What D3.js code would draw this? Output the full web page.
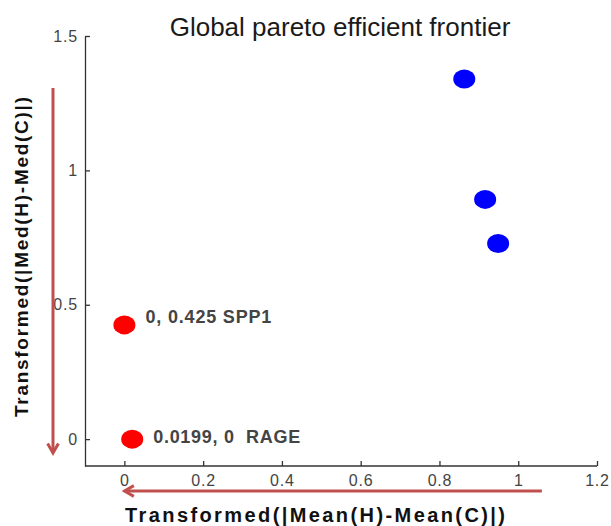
<!DOCTYPE html>
<html>
<head>
<meta charset="utf-8">
<script src="https://cdn.jsdelivr.net/npm/d3@7"></script>
<style>
  body { margin: 0; background: #fff; }
  svg { font-family: "Liberation Sans", Arial, sans-serif; }
</style>
</head>
<body>
<div id="chart"></div>
<script>
// values
const blueX = [0.863, 0.916, 0.949];
const blueY = [1.34, 0.892, 0.728];
const redX = [0, 0.0199];
const redY = [0.425, 0];
const redLabels = ["0, 0.425 SPP1", "0.0199, 0  RAGE"];
const xTicks = [0, 0.2, 0.4, 0.6, 0.8, 1, 1.2];
const yTicks = [0, 0.5, 1, 1.5];

const settings = {
    width: 611,
    height: 526,
    left: 85,
    right: 597,
    top: 36,
    bottom: 466,
    arrowColor: "#c0504d",
};

const x = d3.scaleLinear().domain([-0.1, 1.2]).range([settings.left, settings.right]);
const y = d3.scaleLinear().domain([-0.1, 1.5]).range([settings.bottom, settings.top]);

const svg = d3.select("#chart").append("svg")
    .attr("width", settings.width)
    .attr("height", settings.height);

// title
svg.append("text")
    .attr("x", 340).attr("y", 36)
    .attr("text-anchor", "middle")
    .attr("font-size", 26)
    .attr("fill", "#1a1a1a")
    .text("Global pareto efficient frontier");

// axes, ticks pointing inward
const xAxis = svg.append("g")
    .attr("transform", `translate(0,${settings.bottom})`)
    .call(d3.axisBottom(x).tickValues(xTicks).tickSizeInner(-5).tickSizeOuter(0).tickPadding(9)
        .tickFormat(d3.format("~g")));

const yAxis = svg.append("g")
    .attr("transform", `translate(${settings.left},0)`)
    .call(d3.axisLeft(y).tickValues(yTicks).tickSizeInner(-5).tickSizeOuter(0).tickPadding(7)
        .tickFormat(d3.format("~g")));

[xAxis, yAxis].forEach(g => {
    g.attr("font-size", 16).attr("font-family", "Liberation Sans, Arial, sans-serif");
    g.select(".domain").attr("stroke", "#333").attr("stroke-width", 1.3);
    g.selectAll(".tick line").attr("stroke", "#333").attr("stroke-width", 1.3);
    g.selectAll(".tick text")
        .attr("fill", "#444")
        .style("font-size", "16px")
        .style("letter-spacing", "0.8px");
});
// the x axis line runs from the y axis to 1.2
xAxis.select(".domain").attr("d", `M${settings.left},0H${settings.right}`);

// arrow heads
const defs = svg.append("defs");
defs.append("marker")
    .attr("id", "head")
    .attr("viewBox", "0 0 10 10")
    .attr("refX", 8).attr("refY", 5)
    .attr("markerWidth", 4.5).attr("markerHeight", 4.5)
    .attr("orient", "auto")
    .append("path")
    .attr("d", "M1,1 L8,5 L1,9")
    .attr("fill", "none")
    .attr("stroke", settings.arrowColor)
    .attr("stroke-width", 2.2);

svg.append("line")
    .attr("x1", 53).attr("y1", 88)
    .attr("x2", 53).attr("y2", 453)
    .attr("stroke", settings.arrowColor)
    .attr("stroke-width", 3)
    .attr("marker-end", "url(#head)");

svg.append("line")
    .attr("x1", x(1.06)).attr("y1", 491)
    .attr("x2", x(0.0)).attr("y2", 491)
    .attr("stroke", settings.arrowColor)
    .attr("stroke-width", 3)
    .attr("marker-end", "url(#head)");

// frontier points
const blue = blueX.map((v, i) => ({ x: v, y: blueY[i] }));
const red = redX.map((v, i) => ({ x: v, y: redY[i], label: redLabels[i] }));

svg.append("g").selectAll("ellipse")
    .data(blue)
    .join("ellipse")
    .attr("cx", d => x(d.x))
    .attr("cy", d => y(d.y))
    .attr("rx", 11).attr("ry", 9.5)
    .attr("fill", "#0000ff");

const redGroup = svg.append("g");
redGroup.selectAll("ellipse")
    .data(red)
    .join("ellipse")
    .attr("cx", d => x(d.x))
    .attr("cy", d => y(d.y))
    .attr("rx", 11).attr("ry", 9.5)
    .attr("fill", "#ff0000");

// label placement beside each point
const labelDy = [-2, 4];
const labelWidth = [126, 147];
redGroup.selectAll("text")
    .data(red)
    .join("text")
    .attr("x", d => x(d.x) + 21)
    .attr("y", (d, i) => y(d.y) + labelDy[i])
    .attr("font-size", 18)
    .attr("font-weight", "bold")
    .attr("fill", "#444")
    .attr("textLength", (d, i) => labelWidth[i])
    .attr("lengthAdjust", "spacing")
    .attr("xml:space", "preserve")
    .style("white-space", "pre")
    .text(d => d.label);

// axis titles
svg.append("text")
    .attr("x", 315).attr("y", 522)
    .attr("text-anchor", "middle")
    .attr("font-size", 20)
    .attr("font-weight", "bold")
    .attr("fill", "#111")
    .attr("textLength", 380)
    .attr("lengthAdjust", "spacing")
    .text("Transformed(|Mean(H)-Mean(C)|)");

svg.append("text")
    .attr("transform", "translate(28,257) rotate(-90)")
    .attr("text-anchor", "middle")
    .attr("font-size", 19)
    .attr("font-weight", "bold")
    .attr("fill", "#111")
    .attr("textLength", 320)
    .attr("lengthAdjust", "spacing")
    .text("Transformed(|Med(H)-Med(C)|)");
</script>
</body>
</html>
